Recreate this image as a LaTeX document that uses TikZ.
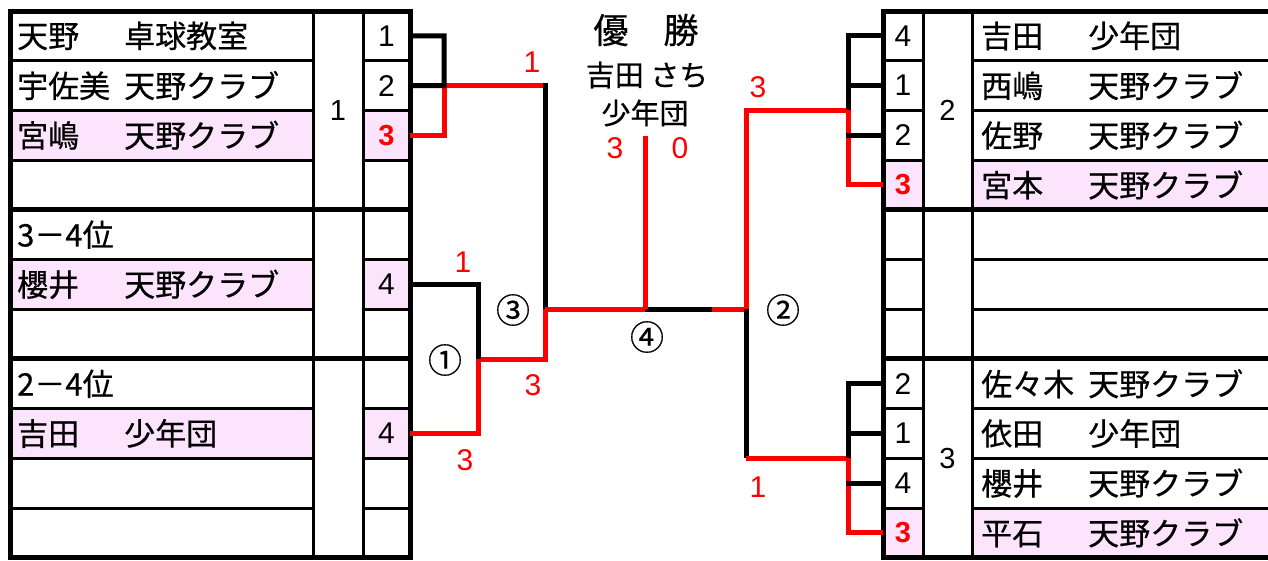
\documentclass[tikz,border=0pt]{standalone}
\usepackage{fontspec}
\setmainfont{Noto Sans CJK JP}[FakeBold=0.5]
\newfontfamily\numfont{Liberation Sans}
\usepackage{tikz}
\usepackage{xcolor}
\definecolor{winpink}{RGB}{252,228,252}
\definecolor{winred}{RGB}{255,0,0}
\newcommand{\entry}[2]{\makebox[107pt][l]{#1}#2}
\tikzset{thickline/.style={line width=5pt},
 thinline/.style={line width=3pt},
 lose/.style={line width=5pt,draw=black},
 win/.style={line width=5pt,draw=winred},
 lcell/.style={inner sep=0pt,minimum width=47pt,minimum height=49.7pt,font=\numfont\fontsize{30}{30}\selectfont},
 rcell/.style={inner sep=0pt,minimum width=40pt,minimum height=49.7pt,font=\numfont\fontsize{30}{30}\selectfont},
 wincell/.style={text=winred,font=\numfont\bfseries\fontsize{29}{30}\selectfont},
 grp/.style={inner sep=0pt,font=\numfont\fontsize{29}{30}\selectfont},
 playerbox/.style={anchor=west,inner sep=0pt,font=\fontsize{31}{32}\selectfont},
 score/.style={inner sep=0pt,text=winred,font=\numfont\fontsize{30}{30}\selectfont},
 roundno/.style={inner sep=0pt,font=\fontsize{34}{34}\selectfont},
 titletext/.style={inner sep=0pt,font=\fontsize{35}{36}\selectfont},
 champtext/.style={inner sep=0pt,font=\fontsize{29}{30}\selectfont},
 }

\begin{document}
\begin{tikzpicture}[x=1pt,y=-1pt]
    \useasboundingbox (0,0) rectangle (1268,560);
    % left table
    \foreach \r in {3,6,9} {
        \fill[winpink] (10,{11+49.7*(\r-1)}) rectangle (313,{11+49.7*\r});
        \fill[winpink] (363,{11+49.7*(\r-1)}) rectangle (410,{11+49.7*\r});
    }
    \foreach \r in {1,2,3,5,6,8,9,10} {
        \draw[thinline] (10,{11+49.7*\r}) -- (313,{11+49.7*\r});
        \draw[thinline] (363,{11+49.7*\r}) -- (410,{11+49.7*\r});
    }
    \draw[thinline] (313,11) -- (313,557.7) (363,11) -- (363,557.7);
    \foreach \r in {4,7} \draw[thickline] (10,{11+49.7*\r}) -- (410,{11+49.7*\r});
    \draw[thickline] (10,11) rectangle (410,557.7);

    % right table
    \foreach \r in {4,11} {
        \fill[winpink] (883,{11+49.7*(\r-1)}) rectangle (923,{11+49.7*\r});
        \fill[winpink] (972,{11+49.7*(\r-1)}) rectangle (1268,{11+49.7*\r});
    }
    \foreach \r in {1,2,3,5,6,8,9,10} {
        \draw[thinline] (883,{11+49.7*\r}) -- (923,{11+49.7*\r});
        \draw[thinline] (972,{11+49.7*\r}) -- (1268,{11+49.7*\r});
    }
    \draw[thinline] (923,11) -- (923,557.7) (972,11) -- (972,557.7);
    \foreach \r in {4,7} \draw[thickline] (883,{11+49.7*\r}) -- (1268,{11+49.7*\r});
    \draw[thickline] (1268,11) -- (883,11) -- (883,557.7) -- (1268,557.7);

    % entries
    \foreach \v/\r in {1/1,2/2,4/6,4/9}
        \node[lcell] (ls\r) at (386.5,{11+49.7*(\r-0.5)}) {\v};
    \node[lcell,wincell] (ls3) at (386.5,{11+49.7*2.5}) {3};
    \foreach \v/\r in {4/1,1/2,2/3,2/8,1/9,4/10}
        \node[rcell] (rs\r) at (903,{11+49.7*(\r-0.5)}) {\v};
    \foreach \r in {4,11}
        \node[rcell,wincell] (rs\r) at (903,{11+49.7*(\r-0.5)}) {3};
    \node[grp] (lg1) at (338,110.4) {1};
    \node[grp] (rg2) at (947.5,110.4) {2};
    \node[grp] (rg3) at (947.5,458.3) {3};

    \foreach \s/\c/\r in {天野/卓球教室/1,宇佐美/天野クラブ/2,宮嶋/天野クラブ/3,櫻井/天野クラブ/6,吉田/少年団/9}
        \node[playerbox] (ln\r) at (17,{11+49.7*(\r-0.5)}) {\entry{\s}{\c}};
    \node[playerbox] (ln5) at (17,{11+49.7*4.5}) {3－4位};
    \node[playerbox] (ln8) at (17,{11+49.7*7.5}) {2－4位};
    \foreach \s/\c/\r in {吉田/少年団/1,西嶋/天野クラブ/2,佐野/天野クラブ/3,宮本/天野クラブ/4,佐々木/天野クラブ/8,依田/少年団/9,櫻井/天野クラブ/10,平石/天野クラブ/11}
        \node[playerbox] (rn\r) at (981,{11+49.7*(\r-0.5)}) {\entry{\s}{\c}};

    % champion
    \node[titletext] (yusho) at (646,30) {優　勝};
    \node[champtext] (cname) at (647,75) {吉田 さち};
    \node[champtext] (cclub) at (645,113) {少年団};
    \node[score] (fs1) at (615,148) {3};
    \node[score] (fs2) at (680,148) {0};

    % bracket points
    \coordinate (g1) at (444,85.6);
    \coordinate (m3t) at (545,85.6);
    \coordinate (m3) at (545,309.2);
    \coordinate (m1) at (478,359);
    \coordinate (fin) at (645,309.2);
    \coordinate (finr) at (712,309.2);
    \coordinate (m2) at (746,309.2);
    \coordinate (m2b) at (746,458.3);
    \coordinate (g2) at (848,110.4);
    \coordinate (g3) at (848,458.3);
    \coordinate (champ) at (645,136);

    % left side
    \draw[win] (ls3.east) -| (g1) -- (m3t);
    \draw[lose] (ls1.east) -| (g1) -- (ls2.east);
    \draw[lose] ([yshift=2.5pt]m3t) -- (m3);
    \draw[win] (m3) |- (m1);
    \draw[lose] (ls6.east) -| (m1);
    \draw[win] (ls9.east) -| (m1);

    % final
    \draw[win] (m3) -- (fin) (finr) -- (m2);
    \draw[lose] (fin) -- (finr);
    \draw[win] (fin) -- (champ);

    % right side
    \draw[win] (m2) |- (g2);
    \draw[lose] (m2) -- (m2b);
    \draw[win] (m2b) -- (g3);
    \draw[win] (rs4.west) -| (g2);
    \draw[lose] (rs1.west) -| (g2);
    \draw[win] (rs11.west) -| (g3);
    \draw[lose] (rs8.west) -| (g3);
    \foreach \r in {2,3,9,10}
        \draw[lose] (rs\r.west) -- ([xshift=-2.5pt]rs\r.west -| g2);

    % match labels
    \node[roundno] (r1) at (445,360) {①};
    \node[roundno] (r2) at (783,310) {②};
    \node[roundno] (r3) at (513,310) {③};
    \node[roundno] (r4) at (647,337) {④};
    \node[score] (s1a) at (463,262) {1};
    \node[score] (s1b) at (465,460) {3};
    \node[score] (s3a) at (532,62) {1};
    \node[score] (s3b) at (533,385) {3};
    \node[score] (s2a) at (758,87) {3};
    \node[score] (s2b) at (758,487) {1};
\end{tikzpicture}
\end{document}
